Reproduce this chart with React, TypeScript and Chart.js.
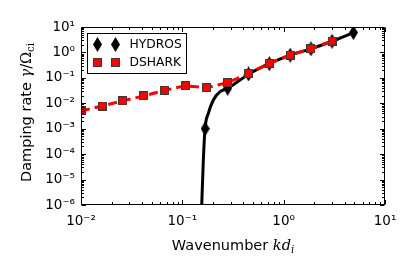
import React, { useEffect, useRef } from 'react';
import { Chart, registerables } from 'chart.js';

Chart.register(...registerables);

// ---- data ----
const xTickValues = [0.01, 0.1, 1, 10];
const xTickLabels = ['10⁻²', '10⁻¹', '10⁰', '10¹'];
const yTickValues = [1e-6, 1e-5, 1e-4, 1e-3, 1e-2, 1e-1, 1, 10];
const yTickLabels = ['10⁻⁶', '10⁻⁵', '10⁻⁴', '10⁻³', '10⁻²', '10⁻¹', '10⁰', '10¹'];

const dsharkK = [0.01, 0.0162, 0.0258, 0.0416, 0.067, 0.108, 0.173, 0.278, 0.449, 0.722, 1.16, 1.86, 3.0];
const dsharkGamma = [0.005, 0.0078, 0.0126, 0.0194, 0.0324, 0.049, 0.041, 0.0645, 0.148, 0.37, 0.79, 1.4, 2.8];

const hydrosK = [0.168, 0.28, 0.45, 0.722, 1.16, 1.86, 3.0, 4.88];
const hydrosGamma = [0.001, 0.039, 0.142, 0.36, 0.78, 1.38, 2.75, 6.0];

const theoryK = [0.1554, 0.1612, 0.1675, 0.1806, 0.2023, 0.2355, 0.2806, 0.455, 0.722, 1.16, 1.86, 3.0, 4.88];
const theoryGamma = [1e-6, 5.9e-5, 1.0e-3, 4.0e-3, 1.35e-2, 2.86e-2, 3.9e-2, 0.142, 0.36, 0.78, 1.38, 2.75, 6.0];

const legendLabels = ['HYDROS', 'DSHARK'];

const SANS = '"DejaVu Sans", sans-serif';
const SERIF = '"DejaVu Serif", serif';

function makeDiamond(): HTMLCanvasElement {
  const w = 9, h = 15;
  const c = document.createElement('canvas');
  c.width = w; c.height = h;
  const g = c.getContext('2d')!;
  g.beginPath();
  g.moveTo(w / 2, 0);
  g.lineTo(w, h / 2);
  g.lineTo(w / 2, h);
  g.lineTo(0, h / 2);
  g.closePath();
  g.fillStyle = '#000';
  g.fill();
  return c;
}

function makeSquare(): HTMLCanvasElement {
  const s = 9;
  const c = document.createElement('canvas');
  c.width = s; c.height = s;
  const g = c.getContext('2d')!;
  g.fillStyle = '#ff0000';
  g.fillRect(0, 0, s, s);
  g.strokeStyle = '#3a3a3a';
  g.lineWidth = 1;
  g.strokeRect(0.5, 0.5, s - 1, s - 1);
  return c;
}

type Seg = { text: string; font: string; dy?: number };

function drawRich(ctx: CanvasRenderingContext2D, segs: Seg[], cx: number, baseline: number) {
  let total = 0;
  const widths = segs.map((s) => {
    ctx.font = s.font;
    const w = ctx.measureText(s.text).width;
    total += w;
    return w;
  });
  let x = cx - total / 2;
  ctx.textAlign = 'left';
  ctx.textBaseline = 'alphabetic';
  segs.forEach((s, i) => {
    ctx.font = s.font;
    ctx.fillText(s.text, x, baseline + (s.dy || 0));
    x += widths[i];
  });
}

function labelFor(values: number[], labels: string[], v: number) {
  for (let i = 0; i < values.length; i++) {
    if (Math.abs(Math.log10(values[i]) - Math.log10(v)) < 1e-6) return labels[i];
  }
  return '';
}

export default function App() {
  const ref = useRef<HTMLCanvasElement | null>(null);

  useEffect(() => {
    if (!ref.current) return;
    const diamond = makeDiamond();
    const square = makeSquare();

    const frameTicksPlugin = {
      id: 'frameTicks',
      afterDatasetsDraw(chart: any) {
        const { ctx, chartArea: a, scales } = chart;
        const xs = scales.x, ys = scales.y;
        ctx.save();
        ctx.strokeStyle = '#000';
        ctx.lineWidth = 1;
        const L = Math.round(a.left) + 0.5, R = Math.round(a.right) - 0.5;
        const T = Math.round(a.top) + 0.5, B = Math.round(a.bottom) - 0.5;
        ctx.beginPath();
        ctx.rect(L, T, R - L, B - T);
        ctx.stroke();
        const major = 4.5, minor = 2.5;
        ctx.beginPath();
        for (let d = -2; d <= 1; d++) {
          for (let m = 1; m <= 9; m++) {
            const v = m * Math.pow(10, d);
            if (v > 10 * 1.0001) break;
            const px = Math.round(xs.getPixelForValue(v)) + 0.5;
            if (px < L - 0.1 || px > R + 1) continue;
            const len = m === 1 ? major : minor;
            ctx.moveTo(px, B); ctx.lineTo(px, B - len);
            ctx.moveTo(px, T); ctx.lineTo(px, T + len);
          }
        }
        for (let d = -6; d <= 1; d++) {
          for (let m = 1; m <= 9; m++) {
            const v = m * Math.pow(10, d);
            if (v > 10 * 1.0001) break;
            const py = Math.round(ys.getPixelForValue(v)) + 0.5;
            if (py < T - 1 || py > B + 1) continue;
            const len = m === 1 ? major : minor;
            ctx.moveTo(L, py); ctx.lineTo(L + len, py);
            ctx.moveTo(R, py); ctx.lineTo(R - len, py);
          }
        }
        ctx.stroke();
        ctx.restore();
      },
    };

    const annotPlugin = {
      id: 'annot',
      afterDraw(chart: any) {
        const { ctx, chartArea: a } = chart;
        ctx.save();
        ctx.fillStyle = '#000';
        const fs = 14.5;
        drawRich(ctx, [
          { text: 'Wavenumber ', font: `${fs}px ${SANS}` },
          { text: 'kd', font: `italic ${fs}px ${SERIF}` },
          { text: 'i', font: `italic ${fs * 0.7}px ${SERIF}`, dy: 3 },
        ], (a.left + a.right) / 2, 249.5);
        ctx.save();
        ctx.translate(31, 112.5);
        ctx.rotate(-Math.PI / 2);
        drawRich(ctx, [
          { text: 'Damping rate ', font: `${fs}px ${SANS}` },
          { text: 'γ', font: `italic ${fs}px ${SERIF}` },
          { text: '/', font: `${fs}px ${SERIF}` },
          { text: 'Ω', font: `${fs}px ${SERIF}` },
          { text: 'ci', font: `${fs * 0.7}px ${SERIF}`, dy: 3 },
        ], 0, 0);
        ctx.restore();

        // legend
        const bx = Math.round(a.left) + 6.5, by = Math.round(a.top) + 6.5;
        const bw = 99, bh = 40;
        ctx.fillStyle = '#fff';
        ctx.fillRect(bx, by, bw, bh);
        ctx.strokeStyle = '#000';
        ctx.lineWidth = 1;
        ctx.strokeRect(bx, by, bw, bh);
        const rows = [by + 10.5, by + 28.5];
        const mx = [bx + 10, bx + 27.5];
        const icons = [diamond, square];
        rows.forEach((ry, i) => {
          const ic = icons[i];
          mx.forEach((x) => {
            ctx.drawImage(ic, Math.round(x - ic.width / 2), Math.round(ry - ic.height / 2));
          });
          ctx.fillStyle = '#000';
          ctx.font = `12.3px ${SANS}`;
          ctx.textAlign = 'left';
          ctx.textBaseline = 'middle';
          ctx.fillText(legendLabels[i], bx + 42, ry + 0.5);
        });
        ctx.restore();
      },
    };

    const chart = new Chart(ref.current, {
      type: 'scatter',
      data: {
        datasets: [
          {
            label: legendLabels[1],
            data: dsharkK.map((k, i) => ({ x: k, y: dsharkGamma[i] })),
            showLine: false,
            pointStyle: square as any,
            pointRadius: 5,
            order: 0,
            clip: 0,
          },
          {
            label: legendLabels[0],
            data: hydrosK.map((k, i) => ({ x: k, y: hydrosGamma[i] })),
            showLine: false,
            pointStyle: diamond as any,
            pointRadius: 5,
            order: 1,
            clip: 0,
          },
          {
            label: 'dshark-line',
            data: dsharkK.map((k, i) => ({ x: k, y: dsharkGamma[i] })),
            showLine: true,
            borderColor: '#ff0000',
            borderWidth: 3,
            borderDash: [9, 5],
            pointRadius: 0,
            tension: 0,
            order: 2,
            clip: 0,
          },
          {
            label: 'theory',
            data: theoryK.map((k, i) => ({ x: k, y: theoryGamma[i] })),
            showLine: true,
            borderColor: '#000',
            borderWidth: 3,
            pointRadius: 0,
            cubicInterpolationMode: 'monotone',
            order: 3,
            clip: 0,
          },
        ],
      },
      options: {
        animation: false,
        responsive: false,
        devicePixelRatio: 1,
        layout: { padding: { left: 0, top: 27, right: 30, bottom: 0 } },
        plugins: {
          legend: { display: false },
          tooltip: { enabled: false },
          title: { display: false },
        },
        scales: {
          x: {
            type: 'logarithmic',
            position: 'bottom',
            min: 0.01,
            max: 10,
            grid: { display: false, drawTicks: false },
            border: { display: false },
            afterBuildTicks: (s: any) => {
              s.ticks = xTickValues.map((v) => ({ value: v, major: true }));
            },
            afterFit: (s: any) => { s.height = 72; },
            ticks: {
              autoSkip: false,
              maxRotation: 0,
              padding: 8.5,
              color: '#000',
              font: { family: SANS, size: 13.5 },
              callback: (v: any) => labelFor(xTickValues, xTickLabels, Number(v)),
            },
          },
          y: {
            type: 'logarithmic',
            position: 'left',
            min: 1e-6,
            max: 10,
            grid: { display: false, drawTicks: false },
            border: { display: false },
            afterBuildTicks: (s: any) => {
              s.ticks = yTickValues.map((v) => ({ value: v, major: true }));
            },
            afterFit: (s: any) => { s.width = 81; },
            ticks: {
              autoSkip: false,
              padding: 6,
              color: '#000',
              font: { family: SANS, size: 13.5 },
              callback: (v: any) => labelFor(yTickValues, yTickLabels, Number(v)),
            },
          },
        },
      },
      plugins: [frameTicksPlugin, annotPlugin],
    } as any);

    return () => chart.destroy();
  }, []);

  return (
    <div style={{ position: 'absolute', left: 0, top: 0, width: 415, height: 277, background: '#fff' }}>
      <canvas ref={ref} width={415} height={277} style={{ display: 'block' }} />
    </div>
  );
}
